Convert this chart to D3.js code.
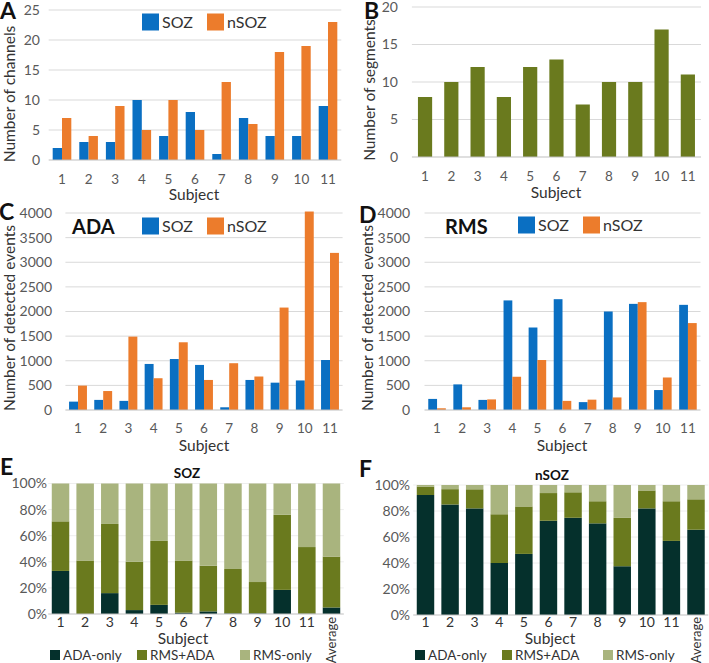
<!DOCTYPE html>
<html><head><meta charset="utf-8">
<script src="https://cdn.jsdelivr.net/npm/d3@7"></script>
<style>
body{margin:0;background:#fff;}
svg text{font-family:Lato,"Open Sans",sans-serif;}
</style></head>
<body>
<svg id="c" width="709" height="663"></svg>
<script>
const subjects = ["1","2","3","4","5","6","7","8","9","10","11"];
const channelsSOZ  = [2,3,3,10,4,8,1,7,4,4,9];
const channelsNSOZ = [7,4,9,5,10,5,13,6,18,19,23];
const segments     = [8,10,12,8,12,13,7,10,10,17,11];
const adaSOZ  = [170,205,185,935,1035,915,55,610,555,600,1015];
const adaNSOZ = [495,385,1490,645,1375,610,950,680,2080,4030,3190];
const rmsSOZ  = [225,520,205,2225,1675,2250,160,2000,2155,405,2135];
const rmsNSOZ = [35,55,215,675,1015,185,210,255,2190,660,1765];
const stackCats = ["1","2","3","4","5","6","7","8","9","10","11","Average"];
// percentages: ADA-only and RMS+ADA parts; RMS-only is the remainder to 100%
const sozAdaOnly = [33,0,16,3,7,1,2,0.5,0.5,18.5,0.3,5];
const sozBoth    = [38,41,53,37,49,40,35,34,24,57.5,51,39];
const nsozAdaOnly = [92.3,85,82,40,47,72.5,74.8,70.5,37.5,82,57,65.6];
const nsozBoth    = [6.5,11.8,14.7,37.5,36.5,21.3,19.6,17,37.2,13.8,30.5,23.4];
const legendGroup = ["SOZ","nSOZ"];
const legendStack = ["ADA-only","RMS+ADA","RMS-only"];
const ticksA = [0,5,10,15,20,25], ticksB=[0,5,10,15,20];
const ticksCD = [0,500,1000,1500,2000,2500,3000,3500,4000];
const ticksEF = [0,20,40,60,80,100];

const BLUE="#0a6fc2", ORANGE="#ec7c2c", OLIVE="#6a7a1e";
const STK=["#05302c","#6a7a1e","#a9b47e"];
const GRID="#d9d9d9", AXIS="#bfbfbf", TICK="#595959", TXT="#333";
const svg=d3.select("#c");

function letter(t,x,y){svg.append("text").attr("x",x).attr("y",y).text(t)
  .attr("font-size",23).attr("font-weight","bold").attr("fill","#111");}

function yTitle(t,x,y){svg.append("text").attr("transform",`translate(${x},${y}) rotate(-90)`)
  .attr("text-anchor","middle").attr("dy","0.35em").attr("font-size",15.5).attr("fill",TXT).text(t);}

function frame(o){
  const x=d3.scaleBand().domain(o.cats).range([o.x0,o.x1]).paddingInner(o.pi).paddingOuter(o.pi/2);
  const y=d3.scaleLinear().domain(o.dom).range([o.yb,o.yt]);
  const g=svg.append("g");
  g.selectAll("line.g").data(o.ticks.slice(1)).join("line")
    .attr("x1",o.x0).attr("x2",o.x1).attr("y1",d=>y(d)).attr("y2",d=>y(d))
    .attr("stroke",o.gridColor||GRID).attr("stroke-width",1);
  g.selectAll("text.yt").data(o.ticks).join("text")
    .attr("x",o.ylx).attr("y",d=>y(d)).attr("dy","0.35em").attr("text-anchor","end")
    .attr("font-size",o.tfs||14).attr("fill",TICK).text(o.fmt||(d=>d));
  return {x,y,g};
}
function baseline(f,o){
  f.g.append("line").attr("x1",o.x0).attr("x2",o.x1).attr("y1",f.y(0)).attr("y2",f.y(0))
   .attr("stroke",AXIS).attr("stroke-width",1);
}
function xLabels(f,o,cats,ly,sx,sy){
  f.g.selectAll("text.xt").data(cats).join("text")
    .attr("x",d=>f.x(d)+f.x.bandwidth()/2).attr("y",ly).attr("dy","0.35em")
    .attr("text-anchor","middle").attr("font-size",13.5).attr("fill",TICK).text(d=>d);
  svg.append("text").attr("x",sx).attr("y",sy).attr("dy","0.35em").attr("text-anchor","middle")
    .attr("font-size",15.5).attr("fill",TXT).text("Subject");
}
function grouped(o){
  const f=frame(o);
  const sub=d3.scaleBand().domain(legendGroup).range([0,f.x.bandwidth()]);
  const cols=[BLUE,ORANGE];
  [o.a,o.b].forEach((arr,k)=>{
    f.g.selectAll(null).data(arr).join("rect")
      .attr("x",(d,i)=>f.x(o.cats[i])+sub(legendGroup[k])).attr("width",sub.bandwidth())
      .attr("y",d=>f.y(d)).attr("height",d=>f.y(0)-f.y(d)).attr("fill",cols[k]);
  });
  baseline(f,o);
  xLabels(f,o,o.cats,o.xly,o.sx,o.sy);
  legendGroup.forEach((n,k)=>{
    svg.append("rect").attr("x",o.lx[k]).attr("y",o.ly-8.5).attr("width",17).attr("height",17).attr("fill",cols[k]);
    svg.append("text").attr("x",o.lx[k]+20).attr("y",o.ly).attr("dy","0.35em")
      .attr("font-size",16).attr("fill",TXT).text(n);
  });
  return f;
}
function stacked(o){
  const f=frame(o);
  const rows=o.cats.map((c,i)=>({c,a:o.ada[i],b:o.both[i],r:100-o.ada[i]-o.both[i]}));
  const st=d3.stack().keys(["a","b","r"])(rows);
  st.forEach((s,k)=>{
    f.g.selectAll(null).data(s).join("rect")
      .attr("x",d=>f.x(d.data.c)).attr("width",f.x.bandwidth())
      .attr("y",d=>f.y(d[1])).attr("height",d=>f.y(d[0])-f.y(d[1])).attr("fill",STK[k]);
  });
  baseline(f,o);
  f.g.selectAll("text.xt").data(o.cats.slice(0,11)).join("text")
    .attr("x",d=>f.x(d)+f.x.bandwidth()/2).attr("y",o.xly).attr("dy","0.35em")
    .attr("text-anchor","middle").attr("font-size",14).attr("fill",TXT).text(d=>d);
  const av=o.cats[11];
  svg.append("text").attr("transform",`translate(${f.x(av)+f.x.bandwidth()/2},${o.xly-5}) rotate(-90)`)
    .attr("text-anchor","end").attr("dy","0.35em").attr("font-size",13).attr("fill",TXT).text(av);
  svg.append("text").attr("x",o.sx).attr("y",o.sy).attr("dy","0.35em").attr("text-anchor","middle")
    .attr("font-size",15.5).attr("fill",TXT).text("Subject");
  svg.append("text").attr("x",o.tx).attr("y",o.ty).attr("dy","0.35em").attr("text-anchor","middle")
    .attr("font-family","Liberation Sans,Arial,sans-serif").attr("font-weight","bold")
    .attr("font-size",13.5).attr("fill","#111").text(o.title);
  legendStack.forEach((n,k)=>{
    svg.append("rect").attr("x",o.lx[k]).attr("y",o.ly-5).attr("width",10).attr("height",10).attr("fill",STK[k]);
    svg.append("text").attr("x",o.lx[k]+13).attr("y",o.ly).attr("dy","0.35em")
      .attr("font-size",13.5).attr("fill",TXT).text(n);
  });
}

// Panel A
letter("A",0,19);
yTitle("Number of channels",10,94);
grouped({cats:subjects,a:channelsSOZ,b:channelsNSOZ,x0:48.7,x1:341.3,pi:0.3,dom:[0,25],yb:160,yt:10,
  ticks:ticksA,ylx:40,xly:179,sx:194,sy:195,lx:[142,207],ly:22});

// Panel B
letter("B",364,19);
yTitle("Number of segments",370,90);
{
  const o={cats:subjects,x0:411.9,x1:701,pi:0.46,dom:[0,20],yb:157,yt:7,ticks:ticksB,ylx:398};
  const f=frame(o);
  f.g.selectAll(null).data(segments).join("rect")
    .attr("x",(d,i)=>f.x(subjects[i])).attr("width",f.x.bandwidth())
    .attr("y",d=>f.y(d)).attr("height",d=>f.y(0)-f.y(d)).attr("fill",OLIVE);
  baseline(f,o);
  xLabels(f,o,subjects,176,556,193);
}

// Panel C
letter("C",-1,220);
yTitle("Number of detected events",10,318);
grouped({cats:subjects,a:adaSOZ,b:adaNSOZ,x0:65.4,x1:342.6,pi:0.29,dom:[0,4000],yb:410,yt:213,
  ticks:ticksCD,ylx:52,xly:428,sx:204,sy:446,lx:[142,207],ly:226});
svg.append("text").attr("x",72).attr("y",227).attr("dy","0.35em").attr("font-size",20)
  .attr("font-weight","bold").attr("fill","#111").text("ADA");

// Panel D
letter("D",359,223);
yTitle("Number of detected events",368,318);
grouped({cats:subjects,a:rmsSOZ,b:rmsNSOZ,x0:424.5,x1:700.5,pi:0.3,dom:[0,4000],yb:410,yt:213,
  ticks:ticksCD,ylx:410,xly:428,sx:562,sy:446,lx:[518,583],ly:225});
svg.append("text").attr("x",445).attr("y",227).attr("dy","0.35em").attr("font-size",20)
  .attr("font-weight","bold").attr("fill","#111").text("RMS");

// Panel E
letter("E",0,475);
stacked({cats:stackCats,ada:sozAdaOnly,both:sozBoth,x0:48.2,x1:343.8,pi:0.29,dom:[0,100],yb:614,yt:483.5,
  ticks:ticksEF,ylx:47,tfs:14,fmt:d=>d+"%",gridColor:"#eeeeee",xly:622,sx:183,sy:638.5,
  tx:187,ty:473,title:"SOZ",lx:[50,137,240],ly:655});

// Panel F
letter("F",359,477);
stacked({cats:stackCats,ada:nsozAdaOnly,both:nsozBoth,x0:413.2,x1:708.3,pi:0.29,dom:[0,100],yb:615,yt:485,
  ticks:ticksEF,ylx:410,tfs:14,fmt:d=>d+"%",gridColor:"#eeeeee",xly:622,sx:550,sy:638.5,
  tx:552,ty:475,title:"nSOZ",lx:[415,502,603],ly:655});
</script>
</body></html>
